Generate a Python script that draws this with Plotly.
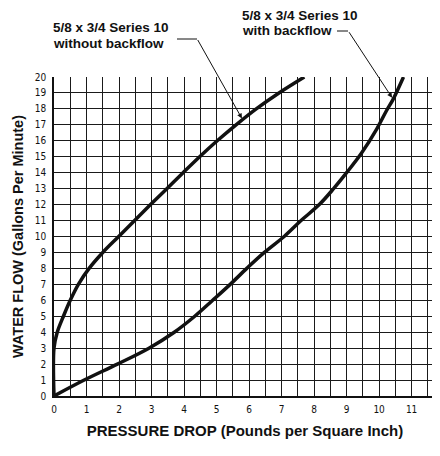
import plotly.graph_objects as go

# Data
without_x = [0, 0, 0.1, 0.29, 0.5, 0.75, 1.08, 1.5, 1.99, 2.48, 2.97, 3.47, 3.97, 4.48, 5.02, 5.6, 6.22, 6.92, 7.7]
without_y = [0, 3, 4, 5, 6, 7, 8, 9, 10, 11, 12, 13, 14, 15, 16, 17, 18, 19, 20]

with_x = [0, 0.93, 1.95, 2.92, 3.7, 4.33, 4.88, 5.42, 5.93, 6.47, 7.08, 7.6, 8.16, 8.6, 9.0, 9.45, 9.93, 10.23, 10.43, 10.75]
with_y = [0, 1, 2, 3, 4, 5, 6, 7, 8, 9, 10, 11, 12, 13, 14, 15.2, 16.75, 17.9, 18.6, 20]

x_ticks = list(range(0, 12))
y_ticks = list(range(0, 21))

label_without = ["5/8 x 3/4 Series 10", "without backflow"]
label_with = ["5/8 x 3/4 Series 10", "with backflow"]
arrow_without = (5.78, 17.4)
arrow_with = (10.4, 18.7)

# page has an 8px body margin; figure sized to fit inside the 440x456 window
OFF = 8
W, H = 432, 440
L, R, T, B = 46, 4, 69, 52
PW, PH = W - L - R, H - T - B

def px(x):
    return (x - OFF - L) / PW

def py(y):
    return (H - B - (y - OFF)) / PH

fig = go.Figure()
for xs, ys in ((without_x, without_y), (with_x, with_y)):
    fig.add_trace(go.Scatter(x=xs, y=ys, mode="lines",
                             line=dict(color="#111111", width=3.5, shape="spline", smoothing=1.0),
                             showlegend=False, hoverinfo="skip"))

tickfont = dict(family="Liberation Sans Narrow, DejaVu Sans Condensed, sans-serif", size=10, color="#111111")
xtitlefont = dict(family="Liberation Sans, Arial, sans-serif", size=15, color="#111111", weight="bold")
ytitlefont = dict(family="Liberation Sans, Arial, sans-serif", size=14.5, color="#111111", weight="bold")

fig.update_layout(
    width=W, height=H,
    margin=dict(l=L, r=R, t=T, b=B, autoexpand=False),
    paper_bgcolor="white", plot_bgcolor="white",
    xaxis=dict(range=[0, 11.75], tickvals=x_ticks, ticktext=[str(v) for v in x_ticks],
               showgrid=True, gridcolor="#1a1a1a", gridwidth=1.3,
               minor=dict(dtick=0.5, tick0=0, showgrid=True, gridcolor="#1a1a1a", gridwidth=1.3),
               zeroline=False, showline=True, linecolor="#111111", linewidth=1.5,
               ticks="", tickfont=tickfont, ticklabelstandoff=3, automargin=False,
               title=dict(text="PRESSURE DROP (Pounds per Square Inch)", font=xtitlefont, standoff=12),
               fixedrange=True),
    yaxis=dict(range=[0, 20], tickvals=y_ticks, ticktext=[str(v) for v in y_ticks],
               showgrid=True, gridcolor="#1a1a1a", gridwidth=1.3,
               zeroline=False, showline=True, linecolor="#111111", linewidth=1.5,
               ticks="", tickfont=tickfont, ticklabelstandoff=4, automargin=False,
               title=dict(text="WATER FLOW (Gallons Per Minute)", font=ytitlefont, standoff=8),
               fixedrange=True),
)

ann_font = dict(family="Liberation Sans, Arial, sans-serif", size=13.5, color="#111111", weight="bold")
for i, line in enumerate(label_without):
    fig.add_annotation(text=line, xref="paper", yref="paper", x=px(51), y=py(27 + 16 * i),
                       xanchor="left", yanchor="middle", align="left", showarrow=False, font=ann_font)
for i, line in enumerate(label_with):
    fig.add_annotation(text=line, xref="paper", yref="paper", x=px(240), y=py(15 + 16 * i),
                       xanchor="left", yanchor="middle", align="left", showarrow=False, font=ann_font)

# leader lines: horizontal part + arrow
fig.add_shape(type="line", xref="paper", yref="paper", x0=px(177), y0=py(39), x1=px(197), y1=py(39),
              line=dict(color="#111111", width=1))
fig.add_shape(type="line", xref="paper", yref="paper", x0=px(337), y0=py(31), x1=px(348), y1=py(31),
              line=dict(color="#111111", width=1))
fig.add_annotation(x=arrow_without[0], y=arrow_without[1], xref="x", yref="y", text="",
                   showarrow=True, arrowhead=2, arrowsize=1, arrowwidth=1, arrowcolor="#111111",
                   ax=-45, ay=-80)
fig.add_annotation(x=arrow_with[0], y=arrow_with[1], xref="x", yref="y", text="",
                   showarrow=True, arrowhead=2, arrowsize=1, arrowwidth=1, arrowcolor="#111111",
                   ax=-44, ay=-67)

fig.write_html("out.html")
